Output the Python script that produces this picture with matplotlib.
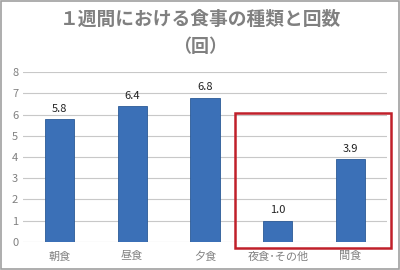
import matplotlib.pyplot as plt
from matplotlib.patches import Rectangle

plt.rcParams['font.family'] = ['Noto Sans CJK JP', 'DejaVu Sans']

categories = ['朝食', '昼食', '夕食', '夜食･その他', '間食']
values = [5.8, 6.4, 6.8, 1.0, 3.9]
y_ticks = [0, 1, 2, 3, 4, 5, 6, 7, 8]

fig = plt.figure(figsize=(4, 2.7), dpi=100)
ax = fig.add_axes([23 / 400, 1 - 241.7 / 270, 364 / 400, 169.4 / 270])

x = range(len(categories))
ax.bar(x, values, width=0.4, color='#3b70b7', edgecolor='#2b5a96', linewidth=0.6, zorder=3)
for i, v in zip(x, values):
    ax.text(i, v + 0.25, f'{v:.1f}', ha='center', va='bottom', fontsize=8, color='#222222')

ax.set_xlim(-0.5, len(categories) - 0.5)
ax.set_ylim(0, 8)
ax.set_yticks(y_ticks)
ax.set_xticks(list(x))
ax.set_xticklabels(categories)
ax.tick_params(axis='both', length=0, colors='#808080', labelsize=8)
ax.tick_params(axis='x', pad=7)
ax.grid(axis='y', color='#c8c8c8', linewidth=0.8, zorder=0)
for s in ax.spines.values():
    s.set_visible(False)

# red highlight box around the last two categories
ax.add_patch(Rectangle((2.41, -0.28), 2.14, 6.36, fill=False, edgecolor='#c0202a',
                       linewidth=1.8, clip_on=False, zorder=4))

fig.text(0.5, 1 - 19 / 270, '１週間における食事の種類と回数', ha='center', va='center',
         fontsize=13.5, fontweight='bold', color='#808080')
fig.text(0.5, 1 - 46 / 270, '（回）', ha='center', va='center',
         fontsize=13, fontweight='bold', color='#808080')

fig.add_artist(Rectangle((0.002, 0.003), 0.995, 0.993, fill=False, edgecolor='#a0a0a0',
                         linewidth=1.2, transform=fig.transFigure))

fig.savefig('out.png', dpi=100)
